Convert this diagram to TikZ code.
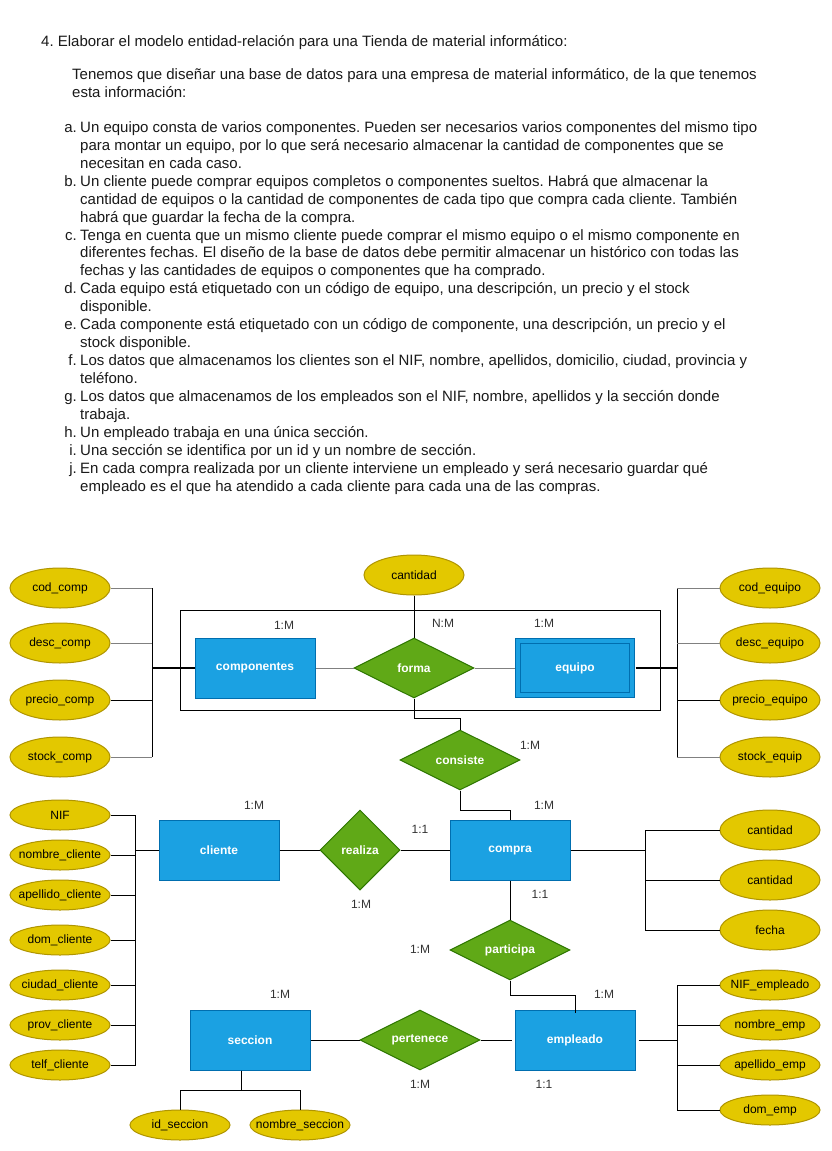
\documentclass[tikz,border=0pt]{standalone}
\usepackage{fontspec}
\setmainfont{Liberation Sans}
\usetikzlibrary{shapes.geometric}
\definecolor{entf}{HTML}{1BA1E2}
\definecolor{entb}{HTML}{006EAF}
\definecolor{relf}{HTML}{60A917}
\definecolor{relb}{HTML}{2D7600}
\definecolor{attf}{HTML}{E3C800}
\definecolor{attb}{HTML}{B09500}
\definecolor{lbl}{HTML}{333333}
\definecolor{conn}{HTML}{808080}
\definecolor{txt}{HTML}{1A1A1A}
\newcommand{\zbox}[1]{\makebox[0pt][c]{#1}}
\tikzset{
  body/.style={anchor=base west, inner sep=0, text=txt, font=\fontsize{15}{17}\selectfont},
  itemlbl/.style={anchor=base east, inner sep=0, text=txt, font=\fontsize{15}{17}\selectfont},
  ent/.style={rectangle, draw=entb, fill=entf, text=white, line width=1pt, minimum width=120, minimum height=60, inner sep=0, font=\fontsize{12}{14}\selectfont\bfseries},
  rel/.style={diamond, aspect=2, draw=relb, fill=relf, text=white, line width=1pt, minimum width=120, minimum height=60, inner sep=0, font=\fontsize{12}{14}\selectfont\bfseries},
  attr/.style={ellipse, draw=attb, fill=attf, text=black, line width=1pt, minimum width=100, minimum height=40, inner sep=0, font=\fontsize{12}{14}\selectfont},
  attrs/.style={attr, minimum height=30},
  card/.style={inner sep=0, text=lbl, font=\fontsize{12}{14}\selectfont},
  ln/.style={line width=1pt, black},
  gln/.style={line width=1pt, conn},
}
\begin{document}
\frenchspacing
\begin{tikzpicture}[x=1pt,y=-1pt]
\useasboundingbox (0,0) rectangle (832,1151);
\fill[white] (0,0) rectangle (832,1151);

% ---------- text ----------
\node[body] (title) at (41,46) {4. Elaborar el modelo entidad-relación para una Tienda de material informático:};
\node[body] (p1) at (72,79) {Tenemos que diseñar una base de datos para una empresa de material informático, de la que tenemos};
\node[body] (p2) at (72,97) {esta información:};

\node[itemlbl] (la) at (77,132) {a.};
\node[body] (a1) at (80,132) {Un equipo consta de varios componentes. Pueden ser necesarios varios componentes del mismo tipo};
\node[body] (a2) at (80,150) {para montar un equipo, por lo que será necesario almacenar la cantidad de componentes que se};
\node[body] (a3) at (80,168) {necesitan en cada caso.};
\node[itemlbl] (lb) at (77,186) {b.};
\node[body] (b1) at (80,186) {Un cliente puede comprar equipos completos o componentes sueltos. Habrá que almacenar la};
\node[body] (b2) at (80,204) {cantidad de equipos o la cantidad de componentes de cada tipo que compra cada cliente. También};
\node[body] (b3) at (80,222) {habrá que guardar la fecha de la compra.};
\node[itemlbl] (lc) at (77,240) {c.};
\node[body] (c1) at (80,240) {Tenga en cuenta que un mismo cliente puede comprar el mismo equipo o el mismo componente en};
\node[body] (c2) at (80,257) {diferentes fechas. El diseño de la base de datos debe permitir almacenar un histórico con todas las};
\node[body] (c3) at (80,275) {fechas y las cantidades de equipos o componentes que ha comprado.};
\node[itemlbl] (ld) at (77,293) {d.};
\node[body] (d1) at (80,293) {Cada equipo está etiquetado con un código de equipo, una descripción, un precio y el stock};
\node[body] (d2) at (80,311) {disponible.};
\node[itemlbl] (le) at (77,329) {e.};
\node[body] (e1) at (80,329) {Cada componente está etiquetado con un código de componente, una descripción, un precio y el};
\node[body] (e2) at (80,347) {stock disponible.};
\node[itemlbl] (lf) at (77,365) {f.};
\node[body] (f1) at (80,365) {Los datos que almacenamos los clientes son el NIF, nombre, apellidos, domicilio, ciudad, provincia y};
\node[body] (f2) at (80,383) {teléfono.};
\node[itemlbl] (lg) at (77,401) {g.};
\node[body] (g1) at (80,401) {Los datos que almacenamos de los empleados son el NIF, nombre, apellidos y la sección donde};
\node[body] (g2) at (80,419) {trabaja.};
\node[itemlbl] (lh) at (77,437) {h.};
\node[body] (h1) at (80,437) {Un empleado trabaja en una única sección.};
\node[itemlbl] (li) at (77,455) {i.};
\node[body] (i1) at (80,455) {Una sección se identifica por un id y un nombre de sección.};
\node[itemlbl] (lj) at (77,473) {j.};
\node[body] (j1) at (80,473) {En cada compra realizada por un cliente interviene un empleado y será necesario guardar qué};
\node[body] (j2) at (80,491) {empleado es el que ha atendido a cada cliente para cada una de las compras.};

% ---------- diagram ----------
\node[draw, line width=1pt, minimum width=480, minimum height=100, inner sep=0] (agg) at (420,660) {};

\node[attr] (cantidadf) at (414,575) {\zbox{cantidad}};
\node[ent] (componentes) at (255,668) {componentes};
\node[rel] (forma) at (414,668) {forma};
\node[ent, minimum width=114, minimum height=54, double=entf, double distance=4pt] (equipo) at (575,668) {equipo};

\node[attr] (codcomp) at (60,588) {\zbox{cod\_comp}};
\node[attr] (desccomp) at (60,643) {\zbox{desc\_comp}};
\node[attr] (preciocomp) at (60,700) {\zbox{precio\_comp}};
\node[attr] (stockcomp) at (60,757) {\zbox{stock\_comp}};

\node[attr] (codeq) at (770,588) {\zbox{cod\_equipo}};
\node[attr] (desceq) at (770,643) {\zbox{desc\_equipo}};
\node[attr] (precioeq) at (770,700) {\zbox{precio\_equipo}};
\node[attr] (stockeq) at (770,757) {\zbox{stock\_equip}};

\node[rel] (consiste) at (460,760) {consiste};
\node[ent] (compra) at (510,850) {compra};
\node[ent] (cliente) at (219,850) {cliente};
\node[rel, aspect=1, minimum width=80, minimum height=80] (realiza) at (360,850) {realiza};
\node[rel] (participa) at (510,950) {participa};
\node[ent] (empleado) at (575,1040) {empleado};
\node[rel] (pertenece) at (420,1040) {pertenece};
\node[ent] (seccion) at (250,1040) {seccion};

\node[attrs] (idsec) at (180,1125) {\zbox{id\_seccion}};
\node[attrs] (nomsec) at (300,1125) {\zbox{nombre\_seccion}};

\node[attr] (cant1) at (770,830) {\zbox{cantidad}};
\node[attr] (cant2) at (770,880) {\zbox{cantidad}};
\node[attr] (fecha) at (770,930) {\zbox{fecha}};

\node[attrs] (nif) at (60,815) {\zbox{NIF}};
\node[attrs] (nomcli) at (60,855) {\zbox{nombre\_cliente}};
\node[attrs] (apecli) at (60,895) {\zbox{apellido\_cliente}};
\node[attrs] (domcli) at (60,940) {\zbox{dom\_cliente}};
\node[attrs] (ciucli) at (60,985) {\zbox{ciudad\_cliente}};
\node[attrs] (provcli) at (60,1025) {\zbox{prov\_cliente}};
\node[attrs] (telcli) at (60,1065) {\zbox{telf\_cliente}};

\node[attrs] (nifemp) at (770,985) {\zbox{NIF\_empleado}};
\node[attrs] (nomemp) at (770,1025) {\zbox{nombre\_emp}};
\node[attrs] (apeemp) at (770,1065) {\zbox{apellido\_emp}};
\node[attrs] (domemp) at (770,1110) {\zbox{dom\_emp}};

% cardinality labels
\node[card] (k1) at (284,625) {1:M};
\node[card] (k2) at (443,623) {N:M};
\node[card] (k3) at (544,623) {1:M};
\node[card] (k4) at (530,745) {1:M};
\node[card] (k5) at (254,805) {1:M};
\node[card] (k6) at (544,805) {1:M};
\node[card] (k7) at (420,829) {1:1};
\node[card] (k8) at (361,904) {1:M};
\node[card] (k9) at (540,894) {1:1};
\node[card] (k10) at (420,949) {1:M};
\node[card] (k11) at (280,994) {1:M};
\node[card] (k12) at (604,994) {1:M};
\node[card] (k13) at (420,1084) {1:M};
\node[card] (k14) at (544,1084) {1:1};

% connectors
\coordinate (bl) at (152,668);
\coordinate (br) at (677,668);
\coordinate (bc) at (645,850);
\coordinate (bk) at (135,850);
\coordinate (be) at (677,1040);

\draw[ln] (codcomp.east -| bl) -- (stockcomp.east -| bl);
\draw[gln] (codcomp.east) -- (codcomp.east -| bl);
\draw[gln] (desccomp.east) -- (desccomp.east -| bl);
\draw[ln] (preciocomp.east) -- (preciocomp.east -| bl);
\draw[gln] (stockcomp.east) -- (stockcomp.east -| bl);
\draw[line width=2pt] (bl) -- (componentes.west);

\draw[ln] (codeq.west -| br) -- (stockeq.west -| br);
\draw[gln] (codeq.west) -- (codeq.west -| br);
\draw[gln] (desceq.west) -- (desceq.west -| br);
\draw[ln] (precioeq.west) -- (precioeq.west -| br);
\draw[gln] (stockeq.west) -- (stockeq.west -| br);
\draw[line width=2pt] ([xshift=3pt]equipo.east) -- (br);

\draw[gln] (componentes.east) -- (forma.west);
\draw[gln] (forma.east) -- ([xshift=-3pt]equipo.west);
\draw[ln] (cantidadf.south) -- (forma.north);
\draw[ln] (forma.south) -- ++(0,20) -| (consiste.north);
\draw[ln] (consiste.south) -- ++(0,20) -| (compra.north);

\draw[ln] (cliente.east) -- (realiza.west);
\draw[ln] (realiza.east) -- (compra.west);
\draw[ln] (compra.south) -- (participa.north);
\draw[ln] (participa.south) -- ++(0,15) -| ([yshift=-3pt]empleado.north);
\draw[ln] (seccion.east) -- (pertenece.west);
\draw[ln] (pertenece.east) -- ([xshift=-3pt]empleado.west);
\draw[ln] ([xshift=-9pt]seccion.south) -- ++(0,20) -| (idsec.north);
\draw[ln] ([xshift=-9pt]seccion.south) -- ++(0,20) -| (nomsec.north);

\draw[ln] (compra.east) -- (bc);
\draw[ln] (cant1.west) -| (bc);
\draw[ln] (cant2.west) -| (bc);
\draw[ln] (fecha.west) -| (bc);

\draw[ln] (cliente.west) -- (bk);
\foreach \a in {nif,nomcli,apecli,domcli,ciucli,provcli,telcli}
  \draw[ln] (\a.east) -| (bk);

\draw[ln] ([xshift=3pt]empleado.east) -- (be);
\foreach \a in {nifemp,nomemp,apeemp,domemp}
  \draw[ln] (\a.west) -| (be);
\end{tikzpicture}
\end{document}
